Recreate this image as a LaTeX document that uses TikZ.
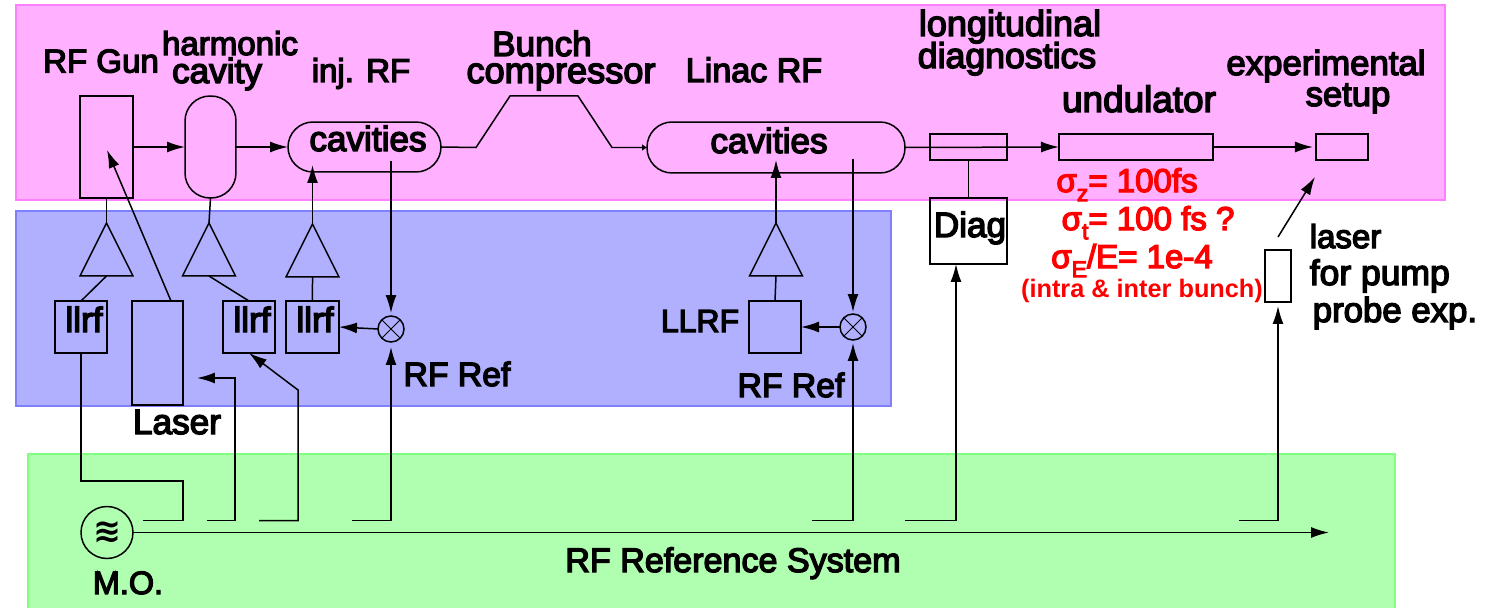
\documentclass[tikz,border=0pt]{standalone}
\usepackage{fontspec}
\setmainfont{Liberation Sans}
\newfontfamily\lblfont{Liberation Sans}[FakeBold=4]
\newfontfamily\symfont{DejaVu Sans Bold}
\usetikzlibrary{shapes.geometric, positioning, arrows.meta}

\newcommand{\lowsub}[1]{\raisebox{-0.28em}{\scalebox{0.7}{#1}}}

\definecolor{pinkfill}{HTML}{FFB0FF}
\definecolor{pinkedge}{HTML}{FF80FF}
\definecolor{bluefill}{HTML}{B0B0FF}
\definecolor{blueedge}{HTML}{8080FF}
\definecolor{greenfill}{HTML}{B0FFB0}
\definecolor{greenedge}{HTML}{80FF80}

\begin{document}
\begin{tikzpicture}[
    x=0.02cm, y=-0.02cm,
    line width=0.03cm,
    band/.style={rectangle, line width=0.05cm, inner sep=0pt, outer sep=0pt},
    box/.style={rectangle, draw, inner sep=0pt, outer sep=0pt},
    cavity/.style={box, rounded corners=0.5cm},
    amp/.style={isosceles triangle, isosceles triangle stretches, shape border rotate=90, draw, inner sep=0pt, outer sep=0pt, minimum width=1.06cm, minimum height=1.06cm, anchor=apex},
    mixer/.style={circle, draw, inner sep=0pt, outer sep=0pt, minimum size=0.52cm},
    lbl/.style={font=\fontsize{20}{22}\lblfont, scale=#1/20, transform shape, anchor=base, inner sep=0pt},
    lbl/.default=18.8,
    redlbl/.style={lbl=#1, text=red},
    redlbl/.default=18.8,
    arrow/.style={-{Latex[length=0.36cm, width=0.22cm]}},
    tinyarrow/.style={-{Latex[length=0.1cm, width=0.14cm]}},
]
\path[use as bounding box, clip] (0,0) rectangle (1498,608);

%% BANDS
    \node[band, fill=pinkfill, draw=pinkedge, minimum width=28.58cm, minimum height=3.9cm] (band_beam) at (730.5,102.5) {};
    \node[band, fill=bluefill, draw=blueedge, minimum width=17.5cm, minimum height=3.9cm] (band_rf) at (453.5,308.5) {};
    \node[band, fill=greenfill, draw=greenedge, minimum width=27.34cm, minimum height=3.4cm] (band_ref) at (711.5,539) {};

%% NODES
    % beam line
    \node[box, minimum width=1.06cm, minimum height=2.04cm] (gun) at (106.5,147) {};
    \node[cavity, minimum width=1.02cm, minimum height=2.04cm] (harm_cav) at (210.5,147) {};
    \node[cavity, minimum width=3.06cm, minimum height=1cm] (inj_cav) at (364.5,147) {};
    \node[cavity, minimum width=5.16cm, minimum height=1.02cm] (linac_cav) at (776,147.5) {};
    \node[box, minimum width=1.54cm, minimum height=0.52cm] (long_diag) at (968.5,147) {};
    \node[box, minimum width=3.08cm, minimum height=0.52cm, right=1.04cm of long_diag] (und) {};
    \node[box, minimum width=1.04cm, minimum height=0.52cm, right=2.06cm of und] (expt) {};
    \node[box, minimum width=1.54cm, minimum height=1.32cm, below=0.76cm of long_diag] (diag) {};
    \node[box, minimum width=0.52cm, minimum height=1.04cm] (pump) at (1278,276) {};

    % amplifiers
    \node[amp] (amp_gun) at (106.5,223) {};
    \node[amp] (amp_harm) at (209,223) {};
    \node[amp] (amp_inj) at (312.5,224) {};
    \node[amp] (amp_linac) at (776,223) {};

    % low level RF
    \node[box, minimum width=1.04cm, minimum height=1.04cm] (llrf_gun) at (81,327) {};
    \node[box, minimum width=1.02cm, minimum height=2.08cm] (laser) at (157.5,353) {};
    \node[box, minimum width=1.04cm, minimum height=1.04cm] (llrf_harm) at (249,327) {};
    \node[box, minimum width=1.06cm, minimum height=1.04cm, right=0.22cm of llrf_harm] (llrf_inj) {};
    \node[box, minimum width=1.04cm, minimum height=1.04cm] (llrf_linac) at (775,327) {};
    \node[mixer] (mix_inj) at (391,329) {};
    \node[mixer] (mix_linac) at (853,327) {};
    \foreach \mix in {mix_inj, mix_linac} {
        \draw[line width=0.02cm] (\mix.45) -- (\mix.225);
        \draw[line width=0.02cm] (\mix.135) -- (\mix.315);
    }

    % master oscillator
    \node[circle, draw, inner sep=0pt, outer sep=0pt, minimum size=1.04cm, font=\fontsize{19}{20}\symfont] (osc) at (107,532.5) {≋};
    \coordinate (ref_end) at (1329,532.5);

    % free ends
    \coordinate (tap_gun) at (143,520.5);
    \coordinate (tap_laser) at (207,520.5);
    \coordinate (tap_harm) at (259,520.5);
    \coordinate (tap_inj) at (352,520.5);
    \coordinate (tap_linac) at (812,520.5);
    \coordinate (tap_diag) at (905,520.5);
    \coordinate (tap_pump) at (1239,520.5);
    \coordinate (bend_gun) at (183,481);
    \coordinate (bend_laser) at (235,378);
    \coordinate (laser_in) at (197,378);
    \coordinate (bend_harm) at (298,390);
    \coordinate (diag_in) at (956,264);
    \coordinate (gun_in) at (107,150);
    \coordinate (laser_top) at (171,301);
    \coordinate (inj_in) at (312.5,165);
    \coordinate (inj_out) at (391,161);
    \coordinate (linac_in) at (776,160);
    \coordinate (linac_out) at (853,159);
    \coordinate (pump_out) at (1278,237);
    \coordinate (expt_in) at (1315,177);
    \coordinate (chic_a) at (476,147.5);
    \coordinate (chic_b) at (510,96);
    \coordinate (chic_c) at (578,96);
    \coordinate (chic_d) at (612,147.5);

%% LABELS
    \node[lbl] (lbl_gun) at (101,72.5) {RF Gun};
    \node[lbl] (lbl_harm) at (230,55) {harmonic};
    \node[lbl=20] (lbl_cav) at (217,83) {cavity};
    \node[lbl] (lbl_inj) at (361,82) {inj. RF};
    \node[lbl=20] (lbl_bunch) at (542,56) {Bunch};
    \node[lbl=20.6] (lbl_comp) at (561,83) {compressor};
    \node[lbl=19.4] (lbl_linac) at (754,82) {Linac RF};
    \node[lbl=20.5] (lbl_long) at (1010,36) {longitudinal};
    \node[lbl=20.3] (lbl_diags) at (1007,68) {diagnostics};
    \node[lbl=21] (lbl_und) at (1139,112) {undulator};
    \node[lbl=19.8] (lbl_expt) at (1326,75) {experimental};
    \node[lbl=19.7] (lbl_setup) at (1348,106) {setup};
    \node[lbl=20] (lbl_injcav) at (368,151) {cavities};
    \node[lbl=20] (lbl_linaccav) at (769,153) {cavities};
    \node[lbl=20] (lbl_diag) at (970,237) {Diag};
    \node[lbl=20] (lbl_llrfa) at (84,332) {llrf};
    \node[lbl=20] (lbl_llrfb) at (252,332) {llrf};
    \node[lbl=20] (lbl_llrfc) at (315,332) {llrf};
    \node[lbl=18.2] (lbl_llrfd) at (700,332) {LLRF};
    \node[lbl=20] (lbl_laser) at (177,434) {Laser};
    \node[lbl=19.2] (lbl_refa) at (457,386) {RF Ref};
    \node[lbl=19.2] (lbl_refb) at (791,397) {RF Ref};
    \node[lbl=18.4] (lbl_mo) at (128,594) {M.O.};
    \node[lbl=19.4] (lbl_ref) at (733,572) {RF Reference System};
    \node[lbl, anchor=base west] (lbl_pumpa) at (1309,248) {laser};
    \node[lbl=20.2, anchor=base west] (lbl_pumpb) at (1309,285) {for pump};
    \node[lbl=19.8, anchor=base west] (lbl_pumpc) at (1312,322) {probe exp.};

    % beam parameters
    \node[redlbl] (par_z) at (1127,192) {σ\lowsub{z}= 100fs};
    \node[redlbl] (par_t) at (1148,230) {σ\lowsub{t}= 100 fs ?};
    \node[redlbl] (par_e) at (1132,268) {σ\lowsub{E}/E= 1e-4};
    \node[redlbl=14.4, font=\fontsize{20}{22}\selectfont\bfseries] (par_note) at (1142,297) {(intra \& inter bunch)};

%% CONNECTIONS
    % beam line
    \draw[arrow] (gun.east) -- (harm_cav.west);
    \draw[arrow] (harm_cav.east) -- (inj_cav.west);
    \draw[tinyarrow] (inj_cav.east) -- (chic_a) -- (chic_b) -- (chic_c) -- (chic_d) -- (linac_cav.west);
    \draw[arrow] (linac_cav.east) -- (und.west);
    \draw[arrow, shorten >=0.06cm] (und.east) -- (expt.west);
    \draw (long_diag.south) -- (diag.north);
    \draw[arrow] (pump_out) -- (expt_in);

    % amplifiers to cavities
    \draw (gun.south) -- (amp_gun.apex);
    \draw (harm_cav.south) -- (amp_harm.apex);
    \draw[arrow] (amp_inj.apex) -- (inj_in);
    \draw[arrow] (amp_linac.apex) -- (linac_in);

    % llrf to amplifiers
    \draw (amp_gun.lower side) -- (llrf_gun.north);
    \draw (amp_harm.lower side) -- (llrf_harm.north);
    \draw (amp_inj.lower side) -- (llrf_inj.north);
    \draw (amp_linac.lower side) -- (llrf_linac.north);

    % laser to gun
    \draw[arrow] (laser_top) -- (gun_in);

    % feedback loops
    \draw[arrow, shorten >=0.06cm] (inj_out) -- (mix_inj.north);
    \draw[arrow, shorten >=0.04cm] (linac_out) -- (mix_linac.north);
    \draw[arrow] (mix_inj.west) -- (llrf_inj.east);
    \draw[arrow] (mix_linac.west) -- (llrf_linac.east);

    % reference line
    \draw[arrow] (osc.east) -- (ref_end);
    \draw (tap_gun) -| (bend_gun) -| (llrf_gun.south);
    \draw[arrow] (tap_laser) -| (bend_laser) -- (laser_in);
    \draw[arrow] (tap_harm) -| (bend_harm) -- (llrf_harm.south);
    \draw[arrow, shorten >=0.1cm] (tap_inj) -| (mix_inj.south);
    \draw[arrow, shorten >=0.06cm] (tap_linac) -| (mix_linac.south);
    \draw[arrow] (tap_diag) -| (diag_in);
    \draw[arrow, shorten >=0.08cm] (tap_pump) -| (pump.south);

\end{tikzpicture}
\end{document}
